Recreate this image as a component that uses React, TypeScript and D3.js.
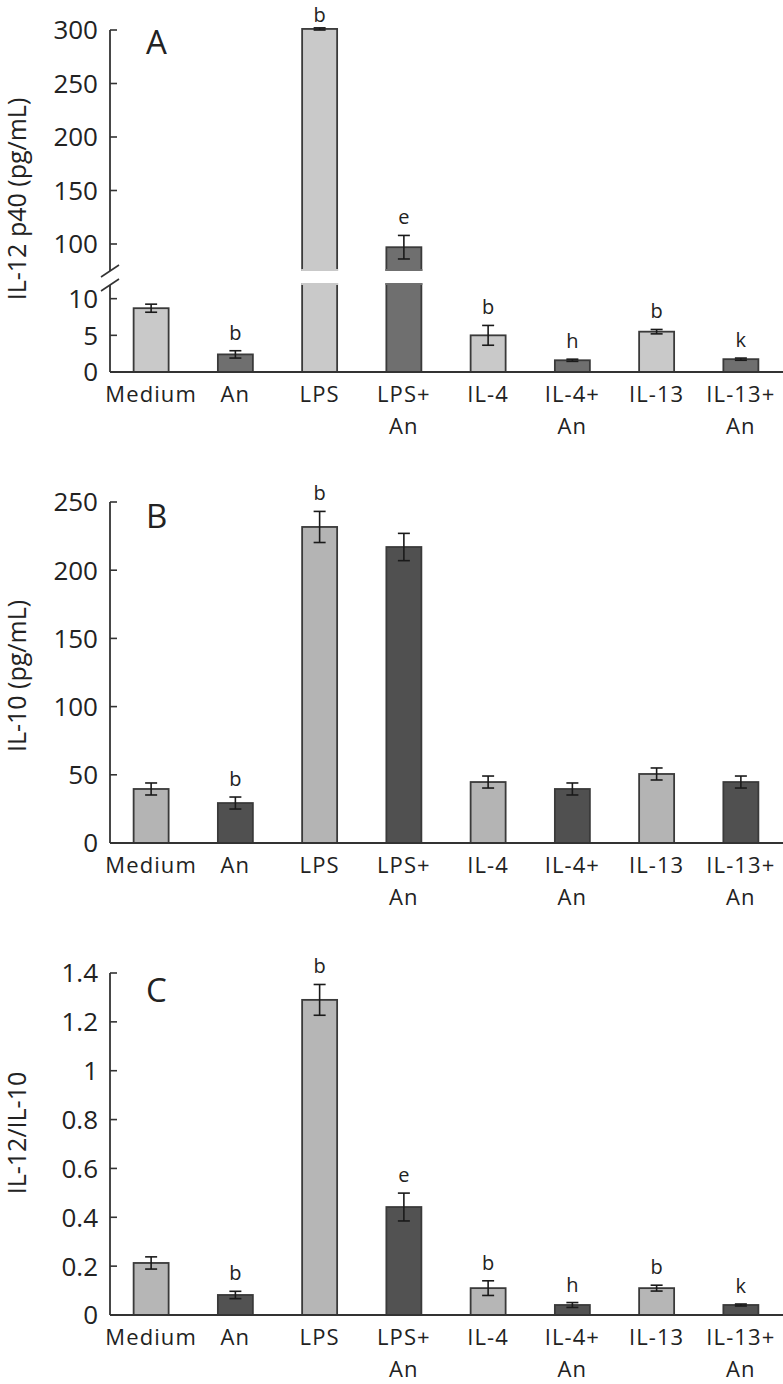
import React from "react";
import * as d3 from "d3";

// ---------- data ----------
const categories = ["Medium", "An", "LPS", "LPS+An", "IL-4", "IL-4+An", "IL-13", "IL-13+An"];
const labelLine1 = ["Medium", "An", "LPS", "LPS+", "IL-4", "IL-4+", "IL-13", "IL-13+"];
const labelLine2 = ["", "", "", "An", "", "An", "", "An"];

// Panel A: IL-12 p40 (pg/mL)
const il12Values = [8.7, 2.4, 301, 97, 5.0, 1.6, 5.5, 1.75];
const il12Errors = [0.55, 0.5, 1, 11, 1.35, 0.15, 0.3, 0.15];
const il12Sig = ["", "b", "b", "e", "b", "h", "b", "k"];
const ticksALow = [0, 5, 10];
const ticksAHigh = [100, 150, 200, 250, 300];

// Panel B: IL-10 (pg/mL)
const il10Values = [39.6, 29.3, 231.7, 217, 44.7, 39.6, 50.6, 44.7];
const il10Errors = [4.4, 4.4, 11.4, 10, 4.4, 4.4, 4.4, 4.4];
const il10Sig = ["", "b", "b", "", "", "", "", ""];
const ticksB = [0, 50, 100, 150, 200, 250];

// Panel C: IL-12/IL-10
const ratioValues = [0.213, 0.082, 1.29, 0.442, 0.11, 0.041, 0.11, 0.041];
const ratioErrors = [0.025, 0.015, 0.063, 0.057, 0.03, 0.01, 0.012, 0.004];
const ratioSig = ["", "b", "b", "e", "b", "h", "b", "k"];
const ticksC = [0, 0.2, 0.4, 0.6, 0.8, 1, 1.2, 1.4];

// ---------- layout ----------
const W = 783;
const H = 1384;
const FONT = "'Open Sans', 'Liberation Sans', sans-serif";
const AXIS_X = 110;
const TEXT = "#222";
const AXIS_COLOR = "#333";
const BAR_STROKE = "#3a3a3a";
const SIG_SIZE = 20;
const YLABEL_SIZE = 25;
const YLABEL_X = 26;
const CAT_SIZE = 22;

const x = d3.scaleBand<string>().domain(categories).range([109, 783]);
const BAR_W = 35;
const cx = (c: string) => (x(c) as number) + x.bandwidth() / 2;

function ErrorBar({ xc, y1, y2 }: { xc: number; y1: number; y2: number }) {
  return (
    <g stroke="#1a1a1a" strokeWidth={1.6}>
      <line x1={xc} x2={xc} y1={y1} y2={y2} />
      <line x1={xc - 6} x2={xc + 6} y1={y1} y2={y1} />
      <line x1={xc - 6} x2={xc + 6} y1={y2} y2={y2} />
    </g>
  );
}

function CategoryLabels({ y0 }: { y0: number }) {
  return (
    <g fontFamily={FONT} fontSize={CAT_SIZE} fill={TEXT} textAnchor="middle" letterSpacing={1.1}>
      {categories.map((c, i) => (
        <g key={c}>
          <text x={cx(c)} y={y0 + 30}>{labelLine1[i]}</text>
          {labelLine2[i] && <text x={cx(c)} y={y0 + 62}>{labelLine2[i]}</text>}
        </g>
      ))}
    </g>
  );
}

function YTicks({ ticks, y, fmt }: { ticks: number[]; y: (v: number) => number; fmt?: (v: number) => string }) {
  return (
    <g>
      {ticks.map((t) => (
        <g key={t}>
          <line x1={AXIS_X} x2={AXIS_X + 7} y1={y(t)} y2={y(t)} stroke={AXIS_COLOR} strokeWidth={1.6} />
          <text
            x={98}
            y={y(t)}
            dy="0.36em"
            textAnchor="end"
            fontFamily={FONT}
            fontSize={26}
            fill={TEXT}
          >
            {fmt ? fmt(t) : String(t)}
          </text>
        </g>
      ))}
    </g>
  );
}

function SimplePanel({
  values,
  errors,
  sig,
  ticks,
  y,
  light,
  dark,
  letter,
  letterY,
  yLabel,
  yLabelCenter,
}: {
  values: number[];
  errors: number[];
  sig: string[];
  ticks: number[];
  y: d3.ScaleLinear<number, number>;
  light: string;
  dark: string;
  letter: string;
  letterY: number;
  yLabel: string;
  yLabelCenter: number;
}) {
  const [y0, yTop] = y.range();
  return (
    <g>
      {categories.map((c, i) => {
        const xc = cx(c);
        const v = values[i];
        const e = errors[i];
        return (
          <g key={c}>
            <rect
              x={xc - BAR_W / 2}
              y={y(v)}
              width={BAR_W}
              height={y0 - y(v)}
              fill={i % 2 === 0 ? light : dark}
              stroke={BAR_STROKE}
              strokeWidth={1.8}
            />
            <ErrorBar xc={xc} y1={y(v + e)} y2={y(v - e)} />
            {sig[i] && (
              <text x={xc} y={y(v + e) - 11} textAnchor="middle" fontFamily={FONT} fontSize={SIG_SIZE} fill={TEXT}>
                {sig[i]}
              </text>
            )}
          </g>
        );
      })}
      <line x1={AXIS_X} x2={AXIS_X} y1={yTop} y2={y0} stroke={AXIS_COLOR} strokeWidth={1.8} />
      <line x1={AXIS_X} x2={W} y1={y0} y2={y0} stroke={AXIS_COLOR} strokeWidth={2} />
      <YTicks ticks={ticks} y={y} fmt={(t) => d3.format("~g")(t)} />
      <text x={146} y={letterY} fontFamily={FONT} fontSize={33} fill={TEXT}>{letter}</text>
      <text
        transform={`translate(${YLABEL_X},${yLabelCenter}) rotate(-90)`}
        textAnchor="middle"
        fontFamily={FONT}
        fontSize={YLABEL_SIZE}
        fill={TEXT}
      >
        {yLabel}
      </text>
      <CategoryLabels y0={y0} />
    </g>
  );
}

function BrokenPanel() {
  const yLow = d3.scaleLinear().domain([0, 12]).range([372, 284]);
  const yHigh = d3.scaleLinear().domain([75.7, 300]).range([270, 30]);
  const lowMax = 12;
  const yAny = (v: number) => (v > lowMax ? yHigh(v) : yLow(v));
  const light = "#c9c9c9";
  const dark = "#6f6f6f";
  const base = yLow(0);
  return (
    <g>
      {categories.map((c, i) => {
        const xc = cx(c);
        const v = il12Values[i];
        const e = il12Errors[i];
        const fill = i % 2 === 0 ? light : dark;
        const broken = v > lowMax;
        return (
          <g key={c}>
            {broken ? (
              <>
                <rect x={xc - BAR_W / 2} y={yLow(lowMax)} width={BAR_W} height={base - yLow(lowMax)}
                  fill={fill} stroke={BAR_STROKE} strokeWidth={1.8} />
                <rect x={xc - BAR_W / 2} y={yHigh(v)} width={BAR_W} height={yHigh(75.7) - yHigh(v)}
                  fill={fill} stroke={BAR_STROKE} strokeWidth={1.8} />
                <line x1={xc - BAR_W / 2 - 1} x2={xc + BAR_W / 2 + 1} y1={yLow(lowMax)} y2={yLow(lowMax)} stroke={fill} strokeWidth={2} />
                <line x1={xc - BAR_W / 2 - 1} x2={xc + BAR_W / 2 + 1} y1={yHigh(75.7)} y2={yHigh(75.7)} stroke={fill} strokeWidth={2} />
              </>
            ) : (
              <rect x={xc - BAR_W / 2} y={yLow(v)} width={BAR_W} height={base - yLow(v)}
                fill={fill} stroke={BAR_STROKE} strokeWidth={1.8} />
            )}
            <ErrorBar xc={xc} y1={yAny(v + e)} y2={yAny(v - e)} />
            {il12Sig[i] && (
              <text x={xc} y={Math.max(yAny(v + e) - 11, 22)} textAnchor="middle" fontFamily={FONT} fontSize={SIG_SIZE} fill={TEXT}>
                {il12Sig[i]}
              </text>
            )}
          </g>
        );
      })}
      {/* broken axis */}
      <line x1={AXIS_X} x2={AXIS_X} y1={yHigh(300)} y2={271} stroke={AXIS_COLOR} strokeWidth={1.8} />
      <line x1={AXIS_X} x2={AXIS_X} y1={285} y2={base} stroke={AXIS_COLOR} strokeWidth={1.8} />
      <line x1={101} x2={119} y1={277} y2={265} stroke={AXIS_COLOR} strokeWidth={1.6} />
      <line x1={101} x2={119} y1={291} y2={279} stroke={AXIS_COLOR} strokeWidth={1.6} />
      <line x1={AXIS_X} x2={W} y1={base} y2={base} stroke={AXIS_COLOR} strokeWidth={2} />
      <YTicks ticks={ticksAHigh} y={yHigh} />
      <YTicks ticks={ticksALow} y={yLow} />
      <text x={146} y={54} fontFamily={FONT} fontSize={33} fill={TEXT}>A</text>
      <text
        transform={`translate(${YLABEL_X},${199}) rotate(-90)`}
        textAnchor="middle"
        fontFamily={FONT}
        fontSize={YLABEL_SIZE}
        fill={TEXT}
      >
        IL-12 p40 (pg/mL)
      </text>
      <CategoryLabels y0={base} />
    </g>
  );
}

export default function App() {
  const yB = d3.scaleLinear().domain([0, 250]).range([843, 502]);
  const yC = d3.scaleLinear().domain([0, 1.4]).range([1315, 973]);
  return (
    <svg
      width={W}
      height={H}
      viewBox={`0 0 ${W} ${H}`}
      style={{ position: "absolute", left: 0, top: 0, display: "block", background: "#fff" }}
    >
      <rect width={W} height={H} fill="#fff" />
      <BrokenPanel />
      <SimplePanel
        values={il10Values}
        errors={il10Errors}
        sig={il10Sig}
        ticks={ticksB}
        y={yB}
        light="#b4b4b4"
        dark="#505050"
        letter="B"
        letterY={528}
        yLabel="IL-10 (pg/mL)"
        yLabelCenter={676}
      />
      <SimplePanel
        values={ratioValues}
        errors={ratioErrors}
        sig={ratioSig}
        ticks={ticksC}
        y={yC}
        light="#b6b6b6"
        dark="#525252"
        letter="C"
        letterY={1002}
        yLabel="IL-12/IL-10"
        yLabelCenter={1133}
      />
    </svg>
  );
}
